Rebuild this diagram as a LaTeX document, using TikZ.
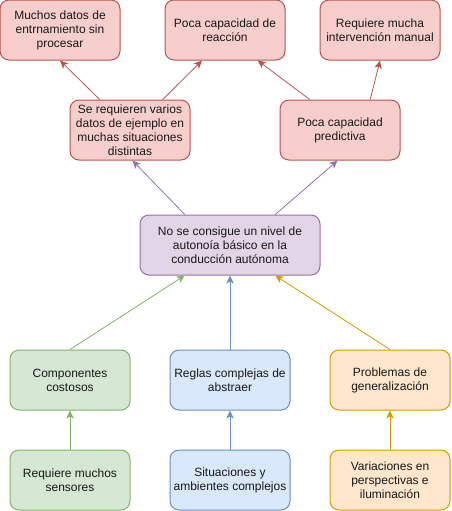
\documentclass[tikz,border=0pt]{standalone}
\usepackage{fontspec}
\setmainfont{Liberation Sans}
\usetikzlibrary{arrows.meta,calc}
\definecolor{redF}{HTML}{F8CECC}\definecolor{redD}{HTML}{B85450}
\definecolor{purF}{HTML}{E1D5E7}\definecolor{purD}{HTML}{9673A6}
\definecolor{grnF}{HTML}{D5E8D4}\definecolor{grnD}{HTML}{82B366}
\definecolor{bluF}{HTML}{DAE8FC}\definecolor{bluD}{HTML}{6C8EBF}
\definecolor{orgF}{HTML}{FFE6CC}\definecolor{orgD}{HTML}{D79B00}
\tikzset{
  box/.style={draw, rounded corners=6.75pt, line width=0.75pt, minimum width=90pt, minimum height=45pt,
    align=center, inner sep=0pt, text=black!90, font=\fontsize{9}{10.5}\selectfont},
  redbox/.style={box, fill=redF, draw=redD},
  purbox/.style={box, fill=purF, draw=purD, minimum width=135pt},
  grnbox/.style={box, fill=grnF, draw=grnD},
  blubox/.style={box, fill=bluF, draw=bluD},
  orgbox/.style={box, fill=orgF, draw=orgD},
  arr/.style={line width=0.6pt, -{Stealth[length=6pt,width=5.5pt,inset=1.5pt]}},
}
\begin{document}
\begin{tikzpicture}[x=0.75pt,y=-0.75pt]
\useasboundingbox (0,0) rectangle (451,511);
\node[redbox] (t1) at (60,30) {Muchos datos de\\entrnamiento sin\\procesar};
\node[redbox] (t2) at (225,30) {Poca capacidad de\\reacción};
\node[redbox] (t3) at (380,30) {Requiere mucha\\intervención manual};
\node[redbox] (r2a) at (130,130) {Se requieren varios\\datos de ejemplo en\\muchas situaciones\\distintas};
\node[redbox] (r2b) at (340,130) {Poca capacidad\\predictiva};
\node[purbox] (m) at (230,245) {No se consigue un nivel de\\autonoía básico en la\\conducción autónoma};
\node[grnbox] (g4) at (70,380) {Componentes\\costosos};
\node[blubox] (b4) at (230,380) {Reglas complejas de\\abstraer};
\node[orgbox] (o4) at (390,380) {Problemas de\\generalización};
\node[grnbox] (g5) at (70,480) {Requiere muchos\\sensores};
\node[blubox] (b5) at (230,480) {Situaciones y\\ambientes complejos};
\node[orgbox] (o5) at (390,480) {Variaciones en\\perspectivas e\\iluminación};

\draw[arr, redD] ($(r2a.north west)!0.25!(r2a.north east)$) -- (t1.south);
\draw[arr, redD] ($(r2a.north west)!0.77!(r2a.north east)$) -- ($(t2.south west)!0.31!(t2.south east)$);
\draw[arr, redD] ($(r2b.north west)!0.25!(r2b.north east)$) -- ($(t2.south west)!0.77!(t2.south east)$);
\draw[arr, redD] ($(r2b.north west)!0.75!(r2b.north east)$) -- (t3.south);

\draw[arr, purD] ($(m.north west)!0.25!(m.north east)$) -- ($(r2a.south west)!0.52!(r2a.south east)$);
\draw[arr, purD] ($(m.north west)!0.75!(m.north east)$) -- ($(r2b.south west)!0.48!(r2b.south east)$);

\draw[arr, grnD] (g4.north) -- ($(m.south west)!0.25!(m.south east)$);
\draw[arr, bluD] (b4.north) -- (m.south);
\draw[arr, orgD] (o4.north) -- ($(m.south west)!0.75!(m.south east)$);

\draw[arr, grnD] (g5.north) -- (g4.south);
\draw[arr, bluD] (b5.north) -- (b4.south);
\draw[arr, orgD] (o5.north) -- (o4.south);
\end{tikzpicture}
\end{document}
